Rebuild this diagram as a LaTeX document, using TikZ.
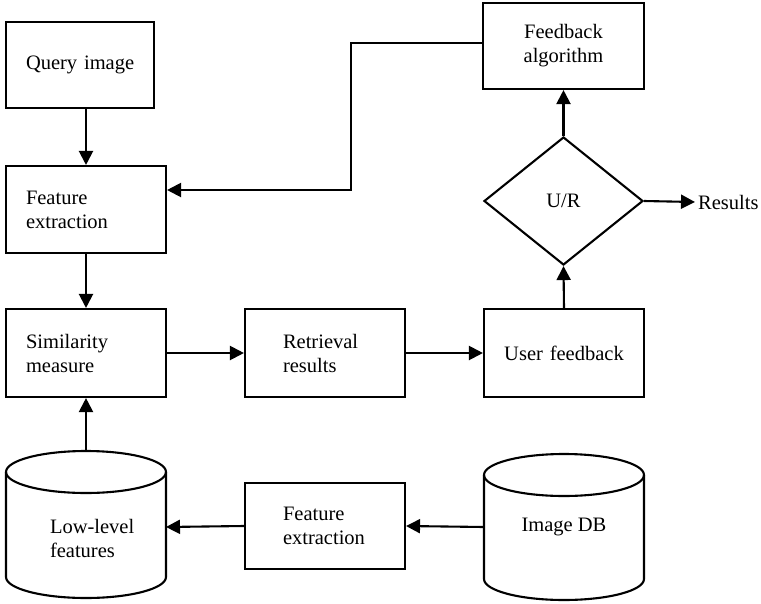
\documentclass[tikz,border=0pt]{standalone}
\usepackage{fontspec}
\setmainfont{Liberation Serif}
\usetikzlibrary{arrows.meta,shapes.geometric}
\hyphenpenalty=10000
\begin{document}
\begin{tikzpicture}[x=1pt,y=1pt,
  lbl/.style={font=\fontsize{20.5}{24}\selectfont},
  box/.style={lbl, draw, line width=2.1pt, rectangle, inner ysep=0pt},
  arr/.style={line width=2.1pt, -{Triangle[length=14pt,width=14pt]}},
  cyl/.style={line width=2.1pt}]
\useasboundingbox (0,0) rectangle (761,-603);
% boxes
\node[box, minimum width=148pt, minimum height=86pt, inner xsep=20pt, text width=108pt, align=left] (Q) at (80,-65) {\mbox{Query image}};
\node[box, minimum width=160pt, minimum height=87pt, inner xsep=20pt, text width=120pt, align=left] (FE) at (86,-209.5) {Feature\\extraction};
\node[box, minimum width=160pt, minimum height=88pt, inner xsep=20pt, text width=120pt, align=left] (Sim) at (86,-353) {Similarity\\measure};
\node[box, minimum width=160pt, minimum height=88pt, inner xsep=38pt, text width=84pt, align=left] (RR) at (325,-353) {Retrieval\\results};
\node[box, minimum width=160pt, minimum height=88pt, inner xsep=10pt, text width=140pt, align=center] (UF) at (564,-353) {User feedback};
\node[box, minimum width=161pt, minimum height=86pt, inner xsep=10pt, text width=141pt, align=center] (FA) at (563.5,-46) {Feedback\\algorithm};
\node[lbl, draw, line width=2.1pt, diamond, inner sep=0pt, minimum width=159pt, minimum height=128pt] (D) at (563.5,-201) {U/R};
\node[lbl, anchor=west, inner xsep=3pt] (Res) at (695,-202) {Results};
\node[box, minimum width=160pt, minimum height=86pt, inner xsep=38pt, text width=84pt, align=left] (FE2) at (325,-526) {Feature\\extraction};
% cylinders
\draw[cyl] (6,-472) -- (6,-577) arc[start angle=180,end angle=360,x radius=80pt,y radius=21pt] -- (166,-472);
\draw[cyl] (86,-472) ellipse[x radius=80pt,y radius=21pt];
\node[lbl, inner ysep=0pt, inner xsep=44pt, text width=72pt, align=left] (LLF) at (86,-538) {\mbox{Low-level}\\features};
\draw[cyl] (484,-475) -- (484,-579) arc[start angle=180,end angle=360,x radius=80pt,y radius=21pt] -- (644,-475);
\draw[cyl] (564,-475) ellipse[x radius=80pt,y radius=21pt];
\node[lbl, inner sep=0pt, align=center] (IDB) at (564,-527) {Image DB};
\coordinate (LLFtop) at (86,-451);
\coordinate (LLFright) at (166,-527);
\coordinate (IDBleft) at (484,-527);
\coordinate (fb1) at (351,-43);
\coordinate (fb2) at (351,-190);
% connectors
\draw[arr] (FE.north |- Q.south) -- (FE.north);
\draw[arr] (FE.south) -- (Sim.north);
\draw[arr] (LLFtop) -- (Sim.south);
\draw[arr] (Sim.east) -- (RR.west);
\draw[arr] (RR.east) -- (UF.west);
\draw[arr] (UF.north) -- (D.south);
\draw[arr] (D.north) -- (FA.south);
\draw[arr] (D.east) -- (Res.west);
\draw[arr] (IDBleft) -- (FE2.east);
\draw[arr] (FE2.west) -- (LLFright);
\draw[arr] (FA.west |- fb1) -- (fb1) -- (fb2) -- (FE.east |- fb2);
\end{tikzpicture}
\end{document}
